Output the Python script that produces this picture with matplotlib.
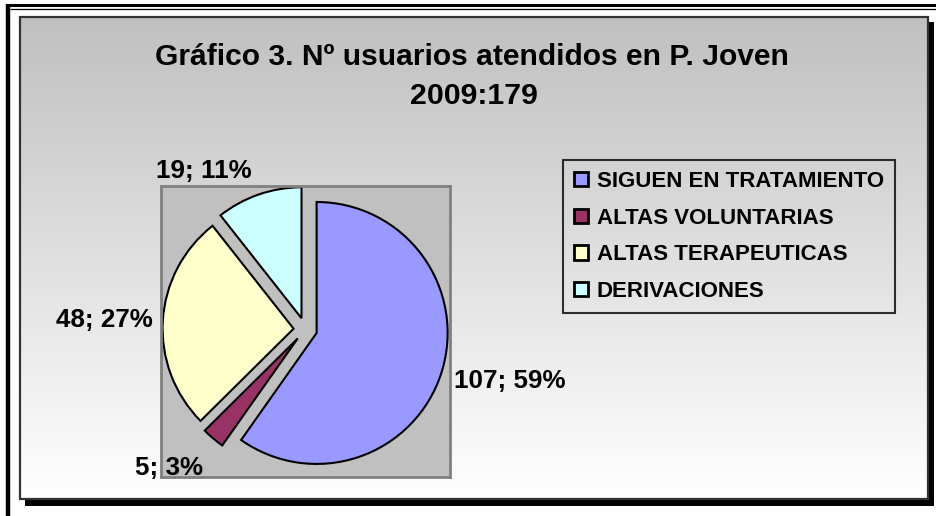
import matplotlib
matplotlib.use("Agg")
import matplotlib.pyplot as plt
import numpy as np
from matplotlib.patches import Rectangle
from matplotlib.colors import LinearSegmentedColormap

# ---- data ----
categories = ["SIGUEN EN TRATAMIENTO", "ALTAS VOLUNTARIAS", "ALTAS TERAPEUTICAS", "DERIVACIONES"]
values = [107, 5, 48, 19]
pct_labels = ["59%", "3%", "27%", "11%"]
colors = ["#9999ff", "#993366", "#ffffcc", "#ccffff"]
title_lines = ["Gráfico 3. Nº usuarios atendidos en P. Joven", "2009:179"]

plt.rcParams['font.family'] = ['Liberation Sans', 'DejaVu Sans']
plt.rcParams['font.weight'] = 'bold'

W, H = 937, 516
fig = plt.figure(figsize=(W / 100, H / 100), dpi=100)
fig.patch.set_facecolor("white")

# frame layer in pixel coordinates
axf = fig.add_axes([0, 0, 1, 1])
axf.set_axis_off()
# page border lines
axf.plot([6, W], [5.3, 5.3], color="black", lw=2.2, solid_capstyle="butt")
axf.plot([10, W], [8.6, 8.6], color="black", lw=0.9, solid_capstyle="butt")
axf.plot([8, 8], [4.2, H], color="black", lw=3.2, solid_capstyle="butt")
# chart area shadow
axf.add_patch(Rectangle((25, 22), 909, 484, facecolor="black", edgecolor="none", zorder=1))
# gradient background
cmap = LinearSegmentedColormap.from_list("bg", ["#c0c0c0", "#ffffff"])
grad = np.linspace(0, 1, 256).reshape(-1, 1)
axf.imshow(grad, cmap=cmap, aspect="auto", extent=(20, 928, 499, 17), origin="upper", zorder=2)
axf.add_patch(Rectangle((20, 17), 908, 482, facecolor="none", edgecolor="#333333", lw=1.6, zorder=3))
axf.set_xlim(0, W)
axf.set_ylim(H, 0)

# title
axf.text(472, 65, title_lines[0], ha="center", va="baseline", fontsize=21.6, fontweight="bold", zorder=5)
axf.text(474, 104, title_lines[1], ha="center", va="baseline", fontsize=21.8, fontweight="bold", zorder=5)

# pie plot area
ax = fig.add_axes([161 / W, 1 - 477 / H, 289 / W, 291 / H])
wedges, _ = ax.pie(values, colors=colors, startangle=90, counterclock=False,
                   explode=[0.09] * len(values), radius=1,
                   wedgeprops=dict(edgecolor="black", linewidth=1.5))
ax.set_aspect("auto")
ax.set_xlim(-1.102, 1.104)
ax.set_ylim(-1.127, 1.095)
ax.set_frame_on(True)
ax.set_facecolor("#c0c0c0")
for s in ax.spines.values():
    s.set_color("#808080")
    s.set_linewidth(2)
ax.set_xticks([])
ax.set_yticks([])

label_dist = [1.11, 1.23, 1.08, 1.19]
label_shift = [-1.8, 4.0, 0.0, -0.5]
for w, v, p, d, sh in zip(wedges, values, pct_labels, label_dist, label_shift):
    ang = np.deg2rad((w.theta1 + w.theta2) / 2 + sh)
    cx, cy = w.center
    x = cx + d * np.cos(ang)
    y = cy + d * np.sin(ang)
    ax.text(x, y, f"{v}; {p}", ha="left" if np.cos(ang) > 0 else "right", va="center",
            fontsize=18.7, fontweight="bold", clip_on=False, zorder=6)

leg = fig.legend(wedges, categories, loc="upper left",
                 bbox_to_anchor=(563 / W, 1 - 160 / H), borderaxespad=0,
                 frameon=True, fancybox=False, shadow=False,
                 edgecolor="black", facecolor="none",
                 prop=dict(family="Liberation Sans", weight="bold", size=16),
                 handlelength=0.62, handleheight=0.62, handletextpad=0.4,
                 labelspacing=0.7, borderpad=0.5)
leg.get_frame().set_linewidth(1.5)
for h in leg.legend_handles:
    h.set_linewidth(2)

fig.savefig("out.png", dpi=100)
